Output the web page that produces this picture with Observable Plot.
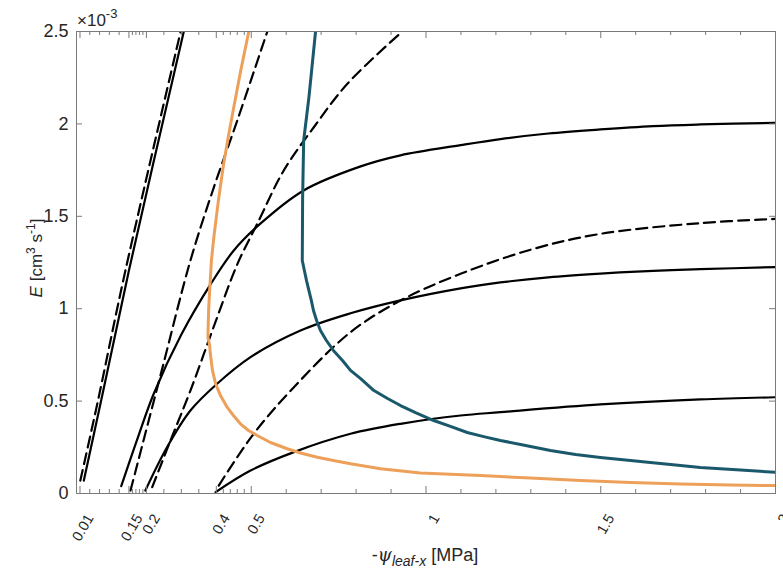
<!DOCTYPE html>
<html><head><meta charset="utf-8">
<script src="https://cdn.jsdelivr.net/npm/d3@7"></script>
<script src="https://cdn.jsdelivr.net/npm/@observablehq/plot@0.6"></script>
<style>
body{margin:0;background:#fff}
svg{font-family:"Liberation Sans",Arial,sans-serif}
</style>
</head><body><div id="chart"></div>
<script>
// ---- tick values / labels ----
const xMajorTicks = [0.01, 0.15, 0.2, 0.4, 0.5, 1, 1.5, 2];
const xMajorLabels = ["0.01", "0.15", "0.2", "0.4", "0.5", "1", "1.5", "2"];
const xMinorTicks = [0.038, 0.066, 0.094, 0.122, 0.16, 0.17, 0.18, 0.19, 0.25, 0.3, 0.35,
  0.42, 0.44, 0.46, 0.48, 0.6, 0.7, 0.8, 0.9, 1.1, 1.2, 1.3, 1.4, 1.6, 1.7, 1.8, 1.9];
const yTicks = [0, 0.5, 1, 1.5, 2, 2.5];
const yTickLabels = ["0", "0.5", "1", "1.5", "2", "2.5"];

// ---- black solid curves (psi, E x1e-3) ----
const solid1_psi = [0.021, 0.069, 0.150, 0.307];
const solid1_E   = [0.07, 0.49, 1.207, 2.5];
const solid2_psi = [0.128, 0.175, 0.221, 0.30, 0.383, 0.45, 0.526, 0.65, 0.813, 0.927, 1.099, 1.213, 1.35, 1.499, 1.65, 1.785, 2.0];
const solid2_E   = [0.04, 0.30, 0.54, 0.86, 1.13, 1.315, 1.46, 1.64, 1.77, 1.83, 1.885, 1.918, 1.948, 1.970, 1.988, 1.997, 2.006];
const solid3_psi = [0.197, 0.259, 0.326, 0.40, 0.498, 0.641, 0.784, 0.927, 1.099, 1.213, 1.35, 1.499, 1.65, 1.785, 2.0];
const solid3_E   = [0.016, 0.25, 0.449, 0.59, 0.738, 0.882, 0.975, 1.045, 1.11, 1.142, 1.170, 1.190, 1.205, 1.214, 1.225];
const solid4_psi = [0.398, 0.498, 0.622, 0.784, 0.927, 1.099, 1.213, 1.499, 1.785, 2.0];
const solid4_E   = [0.007, 0.124, 0.224, 0.323, 0.377, 0.422, 0.44, 0.482, 0.509, 0.521];

// ---- black dashed curves ----
const dash1_psi = [0.011, 0.060, 0.140, 0.298];
const dash1_E   = [0.07, 0.49, 1.207, 2.5];
const dash2_psi = [0.1545, 0.24, 0.326, 0.393, 0.46, 0.546];
const dash2_E   = [0.016, 0.637, 1.261, 1.657, 2.018, 2.5];
const dash3_psi = [0.2166, 0.269, 0.326, 0.398, 0.46, 0.517, 0.593, 0.679, 0.775, 0.932];
const dash3_E   = [0.034, 0.287, 0.557, 0.93, 1.24, 1.459, 1.748, 1.982, 2.217, 2.5];
const dash4_psi = [0.407, 0.507, 0.622, 0.784, 0.927, 1.099, 1.308, 1.499, 1.785, 2.0];
const dash4_E   = [0.043, 0.323, 0.575, 0.873, 1.044, 1.189, 1.324, 1.405, 1.463, 1.486];

// ---- orange curve ----
const orange_psi = [0.493, 0.470, 0.450, 0.435, 0.421, 0.406, 0.393, 0.386, 0.381, 0.378, 0.376, 0.381, 0.383,
  0.389, 0.398, 0.412, 0.431, 0.449, 0.469, 0.492, 0.517, 0.555, 0.603, 0.641, 0.689, 0.735, 0.784, 0.870,
  0.984, 1.156, 1.299, 1.442, 1.585, 1.728, 1.871, 2.0];
const orange_E = [2.5, 2.289, 2.09, 1.937, 1.784, 1.585, 1.387, 1.261, 1.098, 0.99, 0.846, 0.801, 0.756,
  0.666, 0.594, 0.53, 0.467, 0.422, 0.377, 0.341, 0.314, 0.276, 0.242, 0.219, 0.196, 0.179, 0.161, 0.134,
  0.111, 0.097, 0.084, 0.070, 0.060, 0.052, 0.046, 0.043];

// ---- teal curve ----
const teal_psi = [0.684, 0.665, 0.650, 0.647, 0.646, 0.652, 0.658, 0.665, 0.672, 0.678, 0.687, 0.698, 0.715,
  0.735, 0.761, 0.784, 0.813, 0.851, 0.890, 0.927, 0.970, 1.022, 1.070, 1.118, 1.165, 1.213, 1.285, 1.356,
  1.428, 1.499, 1.571, 1.642, 1.714, 1.785, 1.900, 2.0];
const teal_E = [2.5, 2.144, 1.91, 1.603, 1.261, 1.207, 1.153, 1.098, 1.044, 0.99, 0.936, 0.882, 0.828,
  0.774, 0.72, 0.666, 0.622, 0.557, 0.514, 0.476, 0.438, 0.395, 0.363, 0.330, 0.308, 0.287, 0.260, 0.233,
  0.211, 0.195, 0.181, 0.168, 0.154, 0.141, 0.127, 0.115];

// ---- build tables ----
function rows(name, xs, ys) { return xs.map((x, i) => ({series: name, x, y: ys[i]})); }
const solidRows = [
  ...rows("s1", solid1_psi, solid1_E), ...rows("s2", solid2_psi, solid2_E),
  ...rows("s3", solid3_psi, solid3_E), ...rows("s4", solid4_psi, solid4_E)];
const dashRows = [
  ...rows("d1", dash1_psi, dash1_E), ...rows("d2", dash2_psi, dash2_E),
  ...rows("d3", dash3_psi, dash3_E), ...rows("d4", dash4_psi, dash4_E)];
const orangeRows = rows("orange", orange_psi, orange_E);
const tealRows = rows("teal", teal_psi, teal_E);

const TXT = "#262626", AX = "#7a7a7a";
const chart = Plot.plot({
  width: 783, height: 573,
  marginLeft: 76, marginRight: 8, marginTop: 31, marginBottom: 80,
  x: {domain: [0, 2], axis: null},
  y: {domain: [0, 2.5], axis: null},
  style: {fontFamily: "Liberation Sans, Arial, sans-serif", background: "white", overflow: "visible"},
  marks: [
    Plot.line(solidRows, {x: "x", y: "y", z: "series", stroke: "black", strokeWidth: 2.2, curve: "catmull-rom", clip: true}),
    Plot.line(dashRows, {x: "x", y: "y", z: "series", stroke: "black", strokeWidth: 2.2, strokeDasharray: "11,6", curve: "catmull-rom", clip: true}),
    Plot.line(orangeRows, {x: "x", y: "y", stroke: "#EDA05A", strokeWidth: 3, clip: true}),
    Plot.line(tealRows, {x: "x", y: "y", stroke: "#1A586B", strokeWidth: 3, clip: true}),
    Plot.frame({stroke: AX, strokeWidth: 1}),
    // bottom ticks (inward)
    Plot.tickX(xMajorTicks, {x: d => d, insetTop: 455, stroke: AX}),
    Plot.tickX(xMinorTicks, {x: d => d, insetTop: 458, stroke: AX}),
    // top ticks
    Plot.tickX(xMajorTicks, {x: d => d, insetBottom: 455, stroke: AX}),
    Plot.tickX(xMinorTicks, {x: d => d, insetBottom: 458, stroke: AX}),
    // y ticks left & right
    Plot.tickY(yTicks, {y: d => d, insetRight: 693, stroke: AX}),
    Plot.tickY(yTicks, {y: d => d, insetLeft: 693, stroke: AX}),
    // y tick labels
    Plot.text(yTicks, {y: d => d, text: (d, i) => yTickLabels[i], frameAnchor: "left", dx: -8,
      textAnchor: "end", fontSize: 18, fill: TXT}),
    // x tick labels, rotated
    Plot.text(xMajorTicks, {x: d => d, text: (d, i) => xMajorLabels[i], frameAnchor: "bottom", dx: 10, dy: 22,
      rotate: -60, textAnchor: "end", lineAnchor: "middle", fontSize: 14.5, fill: TXT})
  ]
});
document.getElementById("chart").appendChild(chart);

const svg = d3.select(chart);
// x label
const xl = svg.append("text").attr("x", 425).attr("y", 561).attr("text-anchor", "middle")
  .attr("font-size", 18).attr("fill", TXT);
xl.append("tspan").text("-");
xl.append("tspan").attr("font-style", "italic").attr("font-family", "DejaVu Serif, serif").text("ψ");
xl.append("tspan").attr("font-style", "italic").attr("font-size", 14).attr("dy", 5).text("leaf-x");
xl.append("tspan").attr("dy", -5).text(" [MPa]");
// y label
const yl = svg.append("text").attr("transform", "translate(42,258) rotate(-90)").attr("text-anchor", "middle")
  .attr("font-size", 17).attr("fill", TXT);
yl.append("tspan").attr("font-style", "italic").text("E");
yl.append("tspan").text(" [cm");
yl.append("tspan").attr("font-size", 12).attr("dy", -7).text("3");
yl.append("tspan").attr("dy", 7).text(" s");
yl.append("tspan").attr("font-size", 12).attr("dy", -7).text("-1");
yl.append("tspan").attr("dy", 7).text("]");
// exponent
const ex = svg.append("text").attr("x", 77).attr("y", 26).attr("text-anchor", "start")
  .attr("font-size", 17).attr("fill", TXT);
ex.append("tspan").text("×10");
ex.append("tspan").attr("font-size", 13).attr("dy", -8).text("-3");
</script>
</body></html>
